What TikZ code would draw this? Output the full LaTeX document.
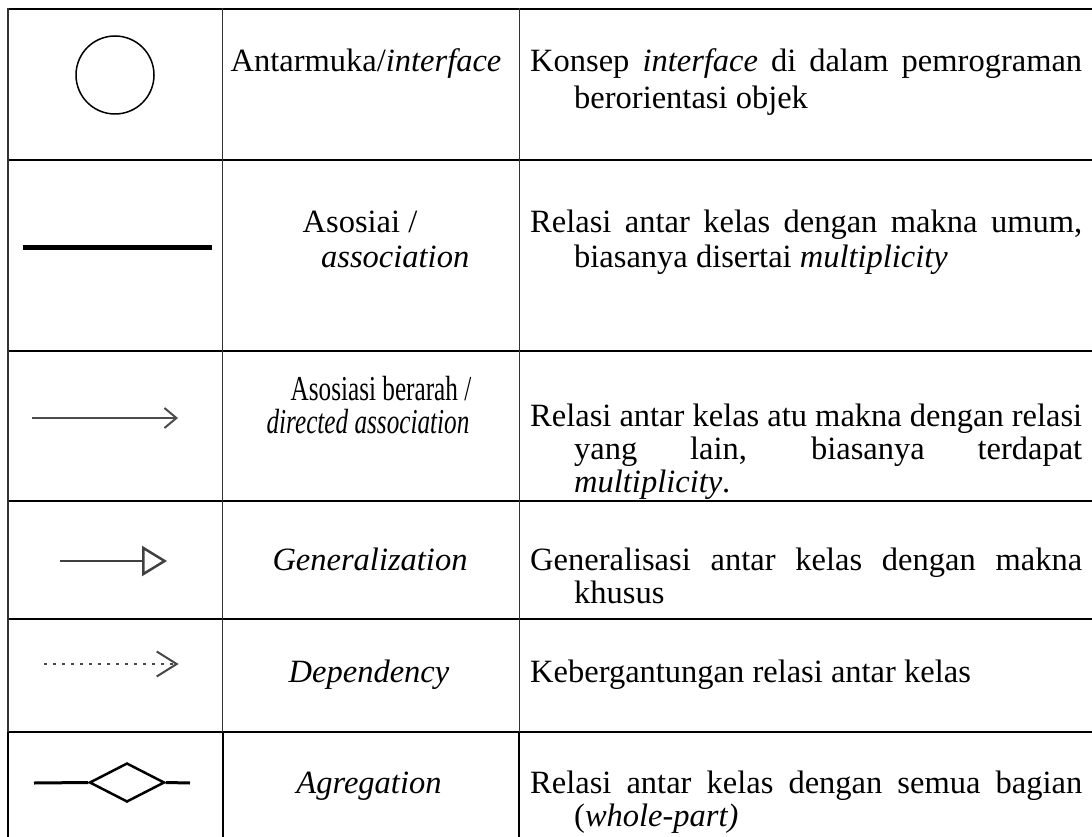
\documentclass[tikz,border=0pt]{standalone}
\usepackage{graphicx}
\usepackage{fontspec}
\setmainfont{Liberation Serif}
\usetikzlibrary{arrows.meta,shapes.geometric}
\begin{document}
\begin{tikzpicture}[x=1pt,y=-1pt,
  hrule/.style={line width=2.2pt,black},
  vrule/.style={line width=1.1pt,black!80},
  txt/.style={inner sep=0pt,anchor=base west,font=\fontsize{32.5}{37}\selectfont},
  ctxt/.style={inner sep=0pt,anchor=base,font=\fontsize{32.5}{37}\selectfont},
  ntxt/.style={inner sep=0pt,anchor=base,font=\fontsize{35}{37}\selectfont},
  sym/.style={line cap=butt},
]
\useasboundingbox (0,0) rectangle (1092,837);
% table rules
\foreach \y in {9,160,351,501,619,732} \draw[hrule] (7,\y) -- (1092,\y);
\foreach \x in {8,222.7,519.3} \draw[vrule] (\x,8) -- (\x,837);
\foreach \x in {8,222.7,519.3} \draw[line width=1.8pt] (\x,732) -- (\x,837);

% row 1
\node[draw,circle,minimum size=78pt,line width=1.5pt,inner sep=0pt] (circ) at (115,75) {};
\node[ctxt] (r1b) at (366,71.7) {Antarmuka/\textit{interface}};
\node[txt] (r1c1) at (530,71.7) {\makebox[552pt][s]{Konsep \textit{interface} di dalam pemrograman}};
\node[txt] (r1c2) at (574,109) {berorientasi objek};

% row 2
\coordinate (as1) at (23,247);
\coordinate (as2) at (211.5,247);
\draw[sym,line width=5pt] (as1) -- (as2);
\node[ctxt] (r2b1) at (360,233) {Asosiai /};
\node[txt] (r2b2) at (321,267) {\textit{association}};
\node[txt] (r2c1) at (530,233) {\makebox[552pt][s]{Relasi antar kelas dengan makna umum,}};
\node[txt] (r2c2) at (574,267) {biasanya disertai \textit{multiplicity}};

% row 3
\coordinate (da1) at (31.5,418);
\coordinate (da2) at (178,418);
\draw[sym,line width=2pt,black!70,-{Straight Barb[length=12pt,width=20pt]}] (da1) -- (da2);
\node[ntxt] (r3b1) at (381,400) {\scalebox{0.72}[1]{Asosiasi berarah /}};
\node[ntxt] (r3b2) at (368,433) {\scalebox{0.72}[1]{\textit{directed association}}};
\node[txt] (r3c1) at (530,426) {\makebox[552pt][s]{Relasi antar kelas atu makna dengan relasi}};
\node[txt] (r3c2) at (574,459) {\makebox[508pt][s]{yang lain, biasanya terdapat}};
\node[txt] (r3c3) at (574,492) {\textit{multiplicity}.};

% row 4
\coordinate (g1) at (60,561);
\coordinate (g2) at (167,561);
\draw[sym,line width=2.5pt,black!75,-{Triangle[open,length=25pt,width=30pt]}] (g1) -- (g2);
\node[ctxt] (r4b) at (370,570) {\textit{Generalization}};
\node[txt] (r4c1) at (530,570) {\makebox[552pt][s]{Generalisasi antar kelas dengan makna}};
\node[txt] (r4c2) at (574,603) {khusus};

% row 5
\coordinate (d1) at (44,664);
\coordinate (d2) at (178.6,664);
\draw[sym,line width=2pt,black!72,dash pattern=on 2.5pt off 6.5pt,-{Straight Barb[length=20pt,width=25pt]}] (d1) -- (d2);
\node[ctxt] (r5b) at (369,682) {\textit{Dependency}};
\node[txt] (r5c) at (530,682) {Kebergantungan relasi antar kelas};

% row 6
\coordinate (ag1) at (34,783);
\coordinate (ag2) at (190,783);
\node[diamond,draw,minimum width=75pt,minimum height=39pt,inner sep=0pt,line width=2.5pt] (dm) at (127,782.5) {};
\draw[line width=3pt] (ag1) -- (dm.west);
\draw[line width=3pt] (dm.east) -- (ag2);
\node[ctxt] (r6b) at (369,793) {\textit{Agregation}};
\node[txt] (r6c1) at (530,793) {\makebox[552pt][s]{Relasi antar kelas dengan semua bagian}};
\node[txt] (r6c2) at (574,826) {(\textit{whole-part)}};
\end{tikzpicture}
\end{document}
